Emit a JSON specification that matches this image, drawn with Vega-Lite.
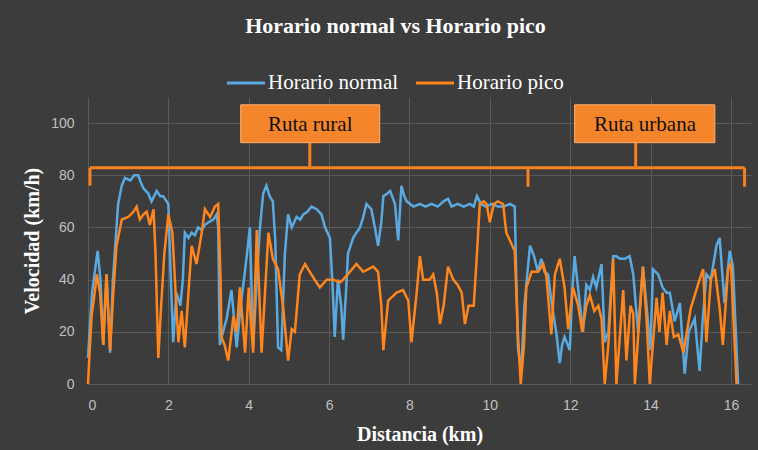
{
  "$schema": "https://vega.github.io/schema/vega-lite/v6.json",
  "width": 663,
  "height": 287,
  "autosize": "none",
  "padding": {"left": 88, "top": 97, "right": 7, "bottom": 66},
  "background": "#3c3c3c",
  "title": {
    "text": "Horario normal vs Horario pico",
    "font": "Liberation Serif",
    "fontSize": 22,
    "fontWeight": "bold",
    "color": "#ffffff",
    "anchor": "middle",
    "offset": 24,
    "dx": -24
  },
  "config": {
    "view": {"stroke": null},
    "axis": {
      "domain": false,
      "ticks": false,
      "gridColor": "#5a5a5a",
      "gridWidth": 1,
      "labelColor": "#c0c0c0",
      "labelFont": "Liberation Sans",
      "labelFontSize": 14,
      "titleColor": "#ffffff",
      "titleFont": "Liberation Serif",
      "titleFontSize": 20,
      "titleFontWeight": "bold"
    }
  },
  "layer": [
    {
      "data": {
        "values": [
          {"km": 0.0, "v": 10, "s": "Horario normal"},
          {"km": 0.1, "v": 35, "s": "Horario normal"},
          {"km": 0.24, "v": 51, "s": "Horario normal"},
          {"km": 0.31, "v": 40, "s": "Horario normal"},
          {"km": 0.38, "v": 15, "s": "Horario normal"},
          {"km": 0.46, "v": 42, "s": "Horario normal"},
          {"km": 0.55, "v": 12, "s": "Horario normal"},
          {"km": 0.62, "v": 40, "s": "Horario normal"},
          {"km": 0.75, "v": 69, "s": "Horario normal"},
          {"km": 0.84, "v": 76, "s": "Horario normal"},
          {"km": 0.92, "v": 79, "s": "Horario normal"},
          {"km": 1.05, "v": 78, "s": "Horario normal"},
          {"km": 1.15, "v": 80, "s": "Horario normal"},
          {"km": 1.25, "v": 80, "s": "Horario normal"},
          {"km": 1.32, "v": 77, "s": "Horario normal"},
          {"km": 1.38, "v": 75, "s": "Horario normal"},
          {"km": 1.5, "v": 73, "s": "Horario normal"},
          {"km": 1.58, "v": 70, "s": "Horario normal"},
          {"km": 1.71, "v": 74, "s": "Horario normal"},
          {"km": 1.8, "v": 72, "s": "Horario normal"},
          {"km": 1.87, "v": 72, "s": "Horario normal"},
          {"km": 2.0, "v": 69, "s": "Horario normal"},
          {"km": 2.05, "v": 45, "s": "Horario normal"},
          {"km": 2.12, "v": 16, "s": "Horario normal"},
          {"km": 2.2, "v": 35, "s": "Horario normal"},
          {"km": 2.3, "v": 30, "s": "Horario normal"},
          {"km": 2.36, "v": 40, "s": "Horario normal"},
          {"km": 2.41, "v": 58, "s": "Horario normal"},
          {"km": 2.5, "v": 56, "s": "Horario normal"},
          {"km": 2.58, "v": 58, "s": "Horario normal"},
          {"km": 2.66, "v": 57, "s": "Horario normal"},
          {"km": 2.74, "v": 60, "s": "Horario normal"},
          {"km": 2.83, "v": 59, "s": "Horario normal"},
          {"km": 2.91, "v": 61, "s": "Horario normal"},
          {"km": 3.0, "v": 62, "s": "Horario normal"},
          {"km": 3.12, "v": 63, "s": "Horario normal"},
          {"km": 3.2, "v": 65, "s": "Horario normal"},
          {"km": 3.24, "v": 60, "s": "Horario normal"},
          {"km": 3.28, "v": 15, "s": "Horario normal"},
          {"km": 3.36, "v": 20, "s": "Horario normal"},
          {"km": 3.45, "v": 25, "s": "Horario normal"},
          {"km": 3.57, "v": 36, "s": "Horario normal"},
          {"km": 3.7, "v": 14, "s": "Horario normal"},
          {"km": 3.8, "v": 30, "s": "Horario normal"},
          {"km": 3.92, "v": 45, "s": "Horario normal"},
          {"km": 4.03, "v": 60, "s": "Horario normal"},
          {"km": 4.11, "v": 14, "s": "Horario normal"},
          {"km": 4.2, "v": 40, "s": "Horario normal"},
          {"km": 4.28, "v": 60, "s": "Horario normal"},
          {"km": 4.36, "v": 73, "s": "Horario normal"},
          {"km": 4.44, "v": 76, "s": "Horario normal"},
          {"km": 4.52, "v": 72, "s": "Horario normal"},
          {"km": 4.6, "v": 70, "s": "Horario normal"},
          {"km": 4.66, "v": 55, "s": "Horario normal"},
          {"km": 4.73, "v": 14, "s": "Horario normal"},
          {"km": 4.81, "v": 13, "s": "Horario normal"},
          {"km": 4.9, "v": 50, "s": "Horario normal"},
          {"km": 4.98, "v": 65, "s": "Horario normal"},
          {"km": 5.07, "v": 60, "s": "Horario normal"},
          {"km": 5.19, "v": 64, "s": "Horario normal"},
          {"km": 5.28, "v": 63, "s": "Horario normal"},
          {"km": 5.36, "v": 65, "s": "Horario normal"},
          {"km": 5.46, "v": 66, "s": "Horario normal"},
          {"km": 5.56, "v": 68, "s": "Horario normal"},
          {"km": 5.69, "v": 67, "s": "Horario normal"},
          {"km": 5.81, "v": 65, "s": "Horario normal"},
          {"km": 5.9, "v": 60, "s": "Horario normal"},
          {"km": 6.02, "v": 56, "s": "Horario normal"},
          {"km": 6.08, "v": 40, "s": "Horario normal"},
          {"km": 6.14, "v": 18, "s": "Horario normal"},
          {"km": 6.22, "v": 40, "s": "Horario normal"},
          {"km": 6.3, "v": 30, "s": "Horario normal"},
          {"km": 6.35, "v": 17, "s": "Horario normal"},
          {"km": 6.42, "v": 35, "s": "Horario normal"},
          {"km": 6.47, "v": 50, "s": "Horario normal"},
          {"km": 6.6, "v": 56, "s": "Horario normal"},
          {"km": 6.68, "v": 58, "s": "Horario normal"},
          {"km": 6.77, "v": 60, "s": "Horario normal"},
          {"km": 6.85, "v": 64, "s": "Horario normal"},
          {"km": 6.93, "v": 69, "s": "Horario normal"},
          {"km": 7.05, "v": 67, "s": "Horario normal"},
          {"km": 7.14, "v": 60, "s": "Horario normal"},
          {"km": 7.22, "v": 53, "s": "Horario normal"},
          {"km": 7.3, "v": 62, "s": "Horario normal"},
          {"km": 7.35, "v": 72, "s": "Horario normal"},
          {"km": 7.45, "v": 73, "s": "Horario normal"},
          {"km": 7.52, "v": 74, "s": "Horario normal"},
          {"km": 7.64, "v": 69, "s": "Horario normal"},
          {"km": 7.72, "v": 55, "s": "Horario normal"},
          {"km": 7.8, "v": 76, "s": "Horario normal"},
          {"km": 7.87, "v": 72, "s": "Horario normal"},
          {"km": 7.93, "v": 70, "s": "Horario normal"},
          {"km": 8.1, "v": 68, "s": "Horario normal"},
          {"km": 8.26, "v": 69, "s": "Horario normal"},
          {"km": 8.4, "v": 68, "s": "Horario normal"},
          {"km": 8.55, "v": 69, "s": "Horario normal"},
          {"km": 8.7, "v": 68, "s": "Horario normal"},
          {"km": 8.85, "v": 70, "s": "Horario normal"},
          {"km": 8.96, "v": 71, "s": "Horario normal"},
          {"km": 9.05, "v": 68, "s": "Horario normal"},
          {"km": 9.2, "v": 69, "s": "Horario normal"},
          {"km": 9.35, "v": 68, "s": "Horario normal"},
          {"km": 9.5, "v": 69, "s": "Horario normal"},
          {"km": 9.6, "v": 68, "s": "Horario normal"},
          {"km": 9.68, "v": 72, "s": "Horario normal"},
          {"km": 9.78, "v": 69, "s": "Horario normal"},
          {"km": 9.9, "v": 68, "s": "Horario normal"},
          {"km": 10.05, "v": 69, "s": "Horario normal"},
          {"km": 10.2, "v": 68, "s": "Horario normal"},
          {"km": 10.35, "v": 68, "s": "Horario normal"},
          {"km": 10.5, "v": 69, "s": "Horario normal"},
          {"km": 10.62, "v": 68, "s": "Horario normal"},
          {"km": 10.66, "v": 40, "s": "Horario normal"},
          {"km": 10.7, "v": 14, "s": "Horario normal"},
          {"km": 10.78, "v": 5, "s": "Horario normal"},
          {"km": 10.86, "v": 30, "s": "Horario normal"},
          {"km": 10.95, "v": 45, "s": "Horario normal"},
          {"km": 11.0, "v": 53, "s": "Horario normal"},
          {"km": 11.1, "v": 49, "s": "Horario normal"},
          {"km": 11.2, "v": 43, "s": "Horario normal"},
          {"km": 11.28, "v": 48, "s": "Horario normal"},
          {"km": 11.36, "v": 43, "s": "Horario normal"},
          {"km": 11.45, "v": 42, "s": "Horario normal"},
          {"km": 11.53, "v": 32, "s": "Horario normal"},
          {"km": 11.66, "v": 19, "s": "Horario normal"},
          {"km": 11.74, "v": 8, "s": "Horario normal"},
          {"km": 11.8, "v": 15, "s": "Horario normal"},
          {"km": 11.86, "v": 18, "s": "Horario normal"},
          {"km": 11.99, "v": 13, "s": "Horario normal"},
          {"km": 12.05, "v": 35, "s": "Horario normal"},
          {"km": 12.11, "v": 49, "s": "Horario normal"},
          {"km": 12.23, "v": 32, "s": "Horario normal"},
          {"km": 12.32, "v": 20, "s": "Horario normal"},
          {"km": 12.4, "v": 38, "s": "Horario normal"},
          {"km": 12.49, "v": 36, "s": "Horario normal"},
          {"km": 12.57, "v": 41, "s": "Horario normal"},
          {"km": 12.65, "v": 37, "s": "Horario normal"},
          {"km": 12.78, "v": 46, "s": "Horario normal"},
          {"km": 12.86, "v": 16, "s": "Horario normal"},
          {"km": 12.95, "v": 20, "s": "Horario normal"},
          {"km": 13.07, "v": 49, "s": "Horario normal"},
          {"km": 13.15, "v": 49, "s": "Horario normal"},
          {"km": 13.24, "v": 48, "s": "Horario normal"},
          {"km": 13.36, "v": 48, "s": "Horario normal"},
          {"km": 13.48, "v": 49, "s": "Horario normal"},
          {"km": 13.57, "v": 42, "s": "Horario normal"},
          {"km": 13.69, "v": 20, "s": "Horario normal"},
          {"km": 13.81, "v": 45, "s": "Horario normal"},
          {"km": 13.9, "v": 30, "s": "Horario normal"},
          {"km": 14.0, "v": 13, "s": "Horario normal"},
          {"km": 14.06, "v": 44, "s": "Horario normal"},
          {"km": 14.19, "v": 42, "s": "Horario normal"},
          {"km": 14.3, "v": 37, "s": "Horario normal"},
          {"km": 14.4, "v": 35, "s": "Horario normal"},
          {"km": 14.48, "v": 35, "s": "Horario normal"},
          {"km": 14.6, "v": 24, "s": "Horario normal"},
          {"km": 14.73, "v": 31, "s": "Horario normal"},
          {"km": 14.85, "v": 4, "s": "Horario normal"},
          {"km": 14.95, "v": 20, "s": "Horario normal"},
          {"km": 15.1, "v": 25, "s": "Horario normal"},
          {"km": 15.22, "v": 5, "s": "Horario normal"},
          {"km": 15.3, "v": 25, "s": "Horario normal"},
          {"km": 15.39, "v": 42, "s": "Horario normal"},
          {"km": 15.5, "v": 40, "s": "Horario normal"},
          {"km": 15.64, "v": 53, "s": "Horario normal"},
          {"km": 15.72, "v": 56, "s": "Horario normal"},
          {"km": 15.84, "v": 31, "s": "Horario normal"},
          {"km": 15.97, "v": 51, "s": "Horario normal"},
          {"km": 16.05, "v": 45, "s": "Horario normal"},
          {"km": 16.18, "v": 0, "s": "Horario normal"},
          {"km": 0.0, "v": 0, "s": "Horario pico"},
          {"km": 0.05, "v": 15, "s": "Horario pico"},
          {"km": 0.09, "v": 26, "s": "Horario pico"},
          {"km": 0.15, "v": 33, "s": "Horario pico"},
          {"km": 0.22, "v": 42, "s": "Horario pico"},
          {"km": 0.3, "v": 35, "s": "Horario pico"},
          {"km": 0.38, "v": 15, "s": "Horario pico"},
          {"km": 0.46, "v": 42, "s": "Horario pico"},
          {"km": 0.55, "v": 13, "s": "Horario pico"},
          {"km": 0.63, "v": 35, "s": "Horario pico"},
          {"km": 0.71, "v": 53, "s": "Horario pico"},
          {"km": 0.84, "v": 63, "s": "Horario pico"},
          {"km": 1.0, "v": 64, "s": "Horario pico"},
          {"km": 1.13, "v": 66, "s": "Horario pico"},
          {"km": 1.21, "v": 68, "s": "Horario pico"},
          {"km": 1.29, "v": 63, "s": "Horario pico"},
          {"km": 1.38, "v": 65, "s": "Horario pico"},
          {"km": 1.46, "v": 66, "s": "Horario pico"},
          {"km": 1.54, "v": 61, "s": "Horario pico"},
          {"km": 1.63, "v": 67, "s": "Horario pico"},
          {"km": 1.68, "v": 50, "s": "Horario pico"},
          {"km": 1.75, "v": 10, "s": "Horario pico"},
          {"km": 1.82, "v": 30, "s": "Horario pico"},
          {"km": 1.9, "v": 50, "s": "Horario pico"},
          {"km": 2.0, "v": 65, "s": "Horario pico"},
          {"km": 2.1, "v": 58, "s": "Horario pico"},
          {"km": 2.18, "v": 35, "s": "Horario pico"},
          {"km": 2.25, "v": 16, "s": "Horario pico"},
          {"km": 2.33, "v": 28, "s": "Horario pico"},
          {"km": 2.41, "v": 14, "s": "Horario pico"},
          {"km": 2.5, "v": 35, "s": "Horario pico"},
          {"km": 2.58, "v": 53, "s": "Horario pico"},
          {"km": 2.7, "v": 46, "s": "Horario pico"},
          {"km": 2.83, "v": 58, "s": "Horario pico"},
          {"km": 2.91, "v": 67, "s": "Horario pico"},
          {"km": 3.04, "v": 64, "s": "Horario pico"},
          {"km": 3.16, "v": 68, "s": "Horario pico"},
          {"km": 3.24, "v": 69, "s": "Horario pico"},
          {"km": 3.3, "v": 40, "s": "Horario pico"},
          {"km": 3.32, "v": 18, "s": "Horario pico"},
          {"km": 3.4, "v": 15, "s": "Horario pico"},
          {"km": 3.49, "v": 9, "s": "Horario pico"},
          {"km": 3.62, "v": 26, "s": "Horario pico"},
          {"km": 3.7, "v": 20, "s": "Horario pico"},
          {"km": 3.78, "v": 37, "s": "Horario pico"},
          {"km": 3.91, "v": 12, "s": "Horario pico"},
          {"km": 4.0, "v": 37, "s": "Horario pico"},
          {"km": 4.05, "v": 25, "s": "Horario pico"},
          {"km": 4.11, "v": 12, "s": "Horario pico"},
          {"km": 4.2, "v": 59, "s": "Horario pico"},
          {"km": 4.32, "v": 12, "s": "Horario pico"},
          {"km": 4.49, "v": 58, "s": "Horario pico"},
          {"km": 4.6, "v": 48, "s": "Horario pico"},
          {"km": 4.73, "v": 44, "s": "Horario pico"},
          {"km": 4.86, "v": 29, "s": "Horario pico"},
          {"km": 4.98, "v": 9, "s": "Horario pico"},
          {"km": 5.07, "v": 21, "s": "Horario pico"},
          {"km": 5.15, "v": 20, "s": "Horario pico"},
          {"km": 5.27, "v": 42, "s": "Horario pico"},
          {"km": 5.4, "v": 46, "s": "Horario pico"},
          {"km": 5.52, "v": 43, "s": "Horario pico"},
          {"km": 5.64, "v": 40, "s": "Horario pico"},
          {"km": 5.77, "v": 37, "s": "Horario pico"},
          {"km": 5.94, "v": 40, "s": "Horario pico"},
          {"km": 6.1, "v": 40, "s": "Horario pico"},
          {"km": 6.27, "v": 39, "s": "Horario pico"},
          {"km": 6.35, "v": 40, "s": "Horario pico"},
          {"km": 6.52, "v": 43, "s": "Horario pico"},
          {"km": 6.68, "v": 46, "s": "Horario pico"},
          {"km": 6.85, "v": 43, "s": "Horario pico"},
          {"km": 7.1, "v": 45, "s": "Horario pico"},
          {"km": 7.22, "v": 43, "s": "Horario pico"},
          {"km": 7.3, "v": 30, "s": "Horario pico"},
          {"km": 7.35, "v": 13, "s": "Horario pico"},
          {"km": 7.47, "v": 32, "s": "Horario pico"},
          {"km": 7.68, "v": 35, "s": "Horario pico"},
          {"km": 7.84, "v": 36, "s": "Horario pico"},
          {"km": 7.97, "v": 32, "s": "Horario pico"},
          {"km": 8.05, "v": 16, "s": "Horario pico"},
          {"km": 8.18, "v": 35, "s": "Horario pico"},
          {"km": 8.26, "v": 49, "s": "Horario pico"},
          {"km": 8.34, "v": 40, "s": "Horario pico"},
          {"km": 8.5, "v": 40, "s": "Horario pico"},
          {"km": 8.59, "v": 42, "s": "Horario pico"},
          {"km": 8.68, "v": 35, "s": "Horario pico"},
          {"km": 8.76, "v": 23, "s": "Horario pico"},
          {"km": 8.85, "v": 30, "s": "Horario pico"},
          {"km": 8.96, "v": 45, "s": "Horario pico"},
          {"km": 9.09, "v": 40, "s": "Horario pico"},
          {"km": 9.2, "v": 38, "s": "Horario pico"},
          {"km": 9.3, "v": 35, "s": "Horario pico"},
          {"km": 9.38, "v": 23, "s": "Horario pico"},
          {"km": 9.47, "v": 30, "s": "Horario pico"},
          {"km": 9.6, "v": 30, "s": "Horario pico"},
          {"km": 9.68, "v": 50, "s": "Horario pico"},
          {"km": 9.75, "v": 69, "s": "Horario pico"},
          {"km": 9.85, "v": 70, "s": "Horario pico"},
          {"km": 9.92, "v": 69, "s": "Horario pico"},
          {"km": 10.0, "v": 62, "s": "Horario pico"},
          {"km": 10.1, "v": 69, "s": "Horario pico"},
          {"km": 10.2, "v": 70, "s": "Horario pico"},
          {"km": 10.33, "v": 69, "s": "Horario pico"},
          {"km": 10.41, "v": 58, "s": "Horario pico"},
          {"km": 10.5, "v": 55, "s": "Horario pico"},
          {"km": 10.62, "v": 51, "s": "Horario pico"},
          {"km": 10.7, "v": 19, "s": "Horario pico"},
          {"km": 10.77, "v": 0, "s": "Horario pico"},
          {"km": 10.85, "v": 15, "s": "Horario pico"},
          {"km": 10.91, "v": 37, "s": "Horario pico"},
          {"km": 11.04, "v": 43, "s": "Horario pico"},
          {"km": 11.2, "v": 43, "s": "Horario pico"},
          {"km": 11.33, "v": 46, "s": "Horario pico"},
          {"km": 11.41, "v": 41, "s": "Horario pico"},
          {"km": 11.53, "v": 19, "s": "Horario pico"},
          {"km": 11.62, "v": 42, "s": "Horario pico"},
          {"km": 11.74, "v": 48, "s": "Horario pico"},
          {"km": 11.86, "v": 37, "s": "Horario pico"},
          {"km": 11.95, "v": 21, "s": "Horario pico"},
          {"km": 12.07, "v": 37, "s": "Horario pico"},
          {"km": 12.2, "v": 30, "s": "Horario pico"},
          {"km": 12.3, "v": 20, "s": "Horario pico"},
          {"km": 12.4, "v": 30, "s": "Horario pico"},
          {"km": 12.49, "v": 34, "s": "Horario pico"},
          {"km": 12.6, "v": 28, "s": "Horario pico"},
          {"km": 12.7, "v": 30, "s": "Horario pico"},
          {"km": 12.78, "v": 25, "s": "Horario pico"},
          {"km": 12.86, "v": 0, "s": "Horario pico"},
          {"km": 12.95, "v": 15, "s": "Horario pico"},
          {"km": 13.07, "v": 48, "s": "Horario pico"},
          {"km": 13.15, "v": 0, "s": "Horario pico"},
          {"km": 13.32, "v": 36, "s": "Horario pico"},
          {"km": 13.4, "v": 9, "s": "Horario pico"},
          {"km": 13.5, "v": 30, "s": "Horario pico"},
          {"km": 13.57, "v": 27, "s": "Horario pico"},
          {"km": 13.61, "v": 0, "s": "Horario pico"},
          {"km": 13.81, "v": 45, "s": "Horario pico"},
          {"km": 13.9, "v": 25, "s": "Horario pico"},
          {"km": 13.98, "v": 0, "s": "Horario pico"},
          {"km": 14.15, "v": 33, "s": "Horario pico"},
          {"km": 14.22, "v": 20, "s": "Horario pico"},
          {"km": 14.3, "v": 35, "s": "Horario pico"},
          {"km": 14.4, "v": 15, "s": "Horario pico"},
          {"km": 14.48, "v": 28, "s": "Horario pico"},
          {"km": 14.58, "v": 18, "s": "Horario pico"},
          {"km": 14.69, "v": 19, "s": "Horario pico"},
          {"km": 14.82, "v": 12, "s": "Horario pico"},
          {"km": 15.0, "v": 29, "s": "Horario pico"},
          {"km": 15.22, "v": 40, "s": "Horario pico"},
          {"km": 15.31, "v": 44, "s": "Horario pico"},
          {"km": 15.39, "v": 16, "s": "Horario pico"},
          {"km": 15.5, "v": 40, "s": "Horario pico"},
          {"km": 15.6, "v": 44, "s": "Horario pico"},
          {"km": 15.72, "v": 29, "s": "Horario pico"},
          {"km": 15.8, "v": 15, "s": "Horario pico"},
          {"km": 15.93, "v": 44, "s": "Horario pico"},
          {"km": 16.0, "v": 46, "s": "Horario pico"},
          {"km": 16.14, "v": 0, "s": "Horario pico"}
        ]
      },
      "mark": {"type": "line", "strokeWidth": 2.5, "interpolate": "linear"},
      "encoding": {
        "x": {
          "field": "km",
          "type": "quantitative",
          "title": "Distancia (km)",
          "scale": {"domain": [0, 16.5], "nice": false},
          "axis": {"values": [0, 2, 4, 6, 8, 10, 12, 14, 16], "labelPadding": 14, "titlePadding": 12}
        },
        "y": {
          "field": "v",
          "type": "quantitative",
          "title": "Velocidad (km/h)",
          "scale": {"domain": [0, 110], "nice": false},
          "axis": {"values": [0, 20, 40, 60, 80, 100], "labelPadding": 14, "titlePadding": 8}
        },
        "color": {
          "field": "s",
          "type": "nominal",
          "scale": {"domain": ["Horario normal", "Horario pico"], "range": ["#5aaae2", "#ff861c"]},
          "legend": {
            "title": null,
            "orient": "none",
            "direction": "horizontal",
            "legendX": 137,
            "legendY": -35,
            "symbolType": "stroke",
            "symbolStrokeWidth": 3,
            "symbolSize": 1450,
            "labelFont": "Liberation Serif",
            "labelFontSize": 21,
            "labelColor": "#ffffff",
            "labelOffset": 1,
            "columnPadding": 10
          }
        }
      }
    },
    {
      "data": {
        "values": [
          {"km": 0.05, "km2": 10.95, "v": 82.9, "v2": 82.9},
          {"km": 10.95, "km2": 16.34, "v": 82.9, "v2": 82.9},
          {"km": 0.05, "km2": 0.05, "v": 82.9, "v2": 76},
          {"km": 10.95, "km2": 10.95, "v": 82.9, "v2": 75.6},
          {"km": 16.34, "km2": 16.34, "v": 82.9, "v2": 75.6},
          {"km": 5.52, "km2": 5.52, "v": 82.9, "v2": 92.5},
          {"km": 13.63, "km2": 13.63, "v": 82.9, "v2": 92.5}
        ]
      },
      "mark": {"type": "rule", "color": "#f5821f", "strokeWidth": 3},
      "encoding": {
        "x": {"field": "km", "type": "quantitative"},
        "x2": {"field": "km2"},
        "y": {"field": "v", "type": "quantitative"},
        "y2": {"field": "v2"}
      }
    },
    {
      "data": {
        "values": [
          {"km": 3.8, "km2": 7.26, "v": 92.5, "v2": 107, "t": "Ruta rural", "c": 5.53},
          {"km": 12.11, "km2": 15.6, "v": 92.5, "v2": 107, "t": "Ruta urbana", "c": 13.86}
        ]
      },
      "layer": [
        {
          "mark": {"type": "rect", "fill": "#f5852a", "stroke": "#ffb070", "strokeWidth": 1},
          "encoding": {
            "x": {"field": "km", "type": "quantitative"},
            "x2": {"field": "km2"},
            "y": {"field": "v", "type": "quantitative"},
            "y2": {"field": "v2"}
          }
        },
        {
          "mark": {"type": "text", "font": "Liberation Serif", "fontSize": 21, "color": "#111111", "baseline": "middle", "align": "center", "dy": 1},
          "encoding": {
            "x": {"field": "c", "type": "quantitative"},
            "y": {"datum": 99.7, "type": "quantitative"},
            "text": {"field": "t"}
          }
        }
      ]
    }
  ]
}
